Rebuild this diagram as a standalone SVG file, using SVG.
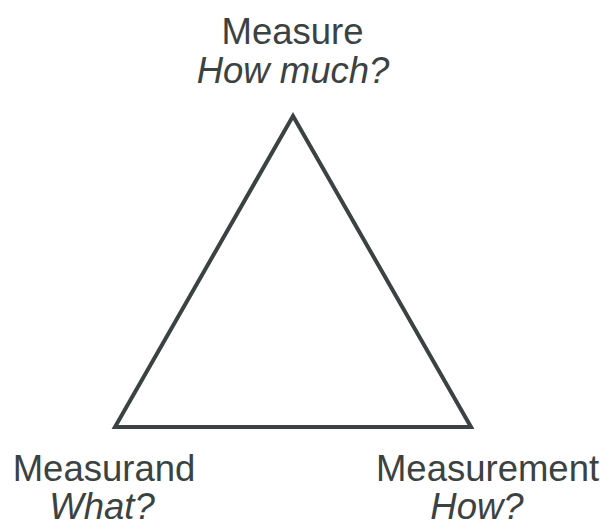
<svg xmlns="http://www.w3.org/2000/svg" width="605" height="522" viewBox="0 0 605 522">
<style>
.t{font-family:"Liberation Sans",Arial,sans-serif;font-size:36.5px;fill:#3b4242;text-anchor:middle}
.i{font-style:italic}
</style>
<rect width="605" height="522" fill="#fff"/>
<g id="connectors">
<polygon points="293,116 471,427 115,427" fill="none" stroke="#3b4242" stroke-width="4" stroke-linejoin="miter"/>
</g>
<g id="measure">
<text class="t" x="292.5" y="43.5">Measure</text>
<text class="t i" x="293" y="83">How much?</text>
</g>
<g id="measurand">
<text class="t" x="104" y="481">Measurand</text>
<text class="t i" x="102" y="518.5">What?</text>
</g>
<g id="measurement">
<text class="t" x="487.5" y="481">Measurement</text>
<text class="t i" x="477" y="518.5">How?</text>
</g>
</svg>
